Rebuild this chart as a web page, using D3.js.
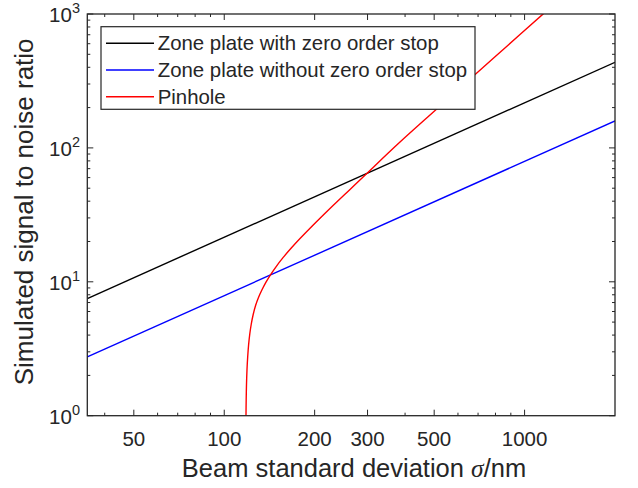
<!DOCTYPE html>
<html>
<head>
<meta charset="utf-8">
<script src="https://cdn.jsdelivr.net/npm/d3@7"></script>
<style>
  body { margin: 0; background: #fff; }
  svg { display: block; }
  text { font-family: "Liberation Sans", Arial, Helvetica, sans-serif; fill: #262626; }
</style>
</head>
<body>
<svg id="chart" width="638" height="488"></svg>
<script>
// Beam standard deviation (nm) and simulated SNR for each detector setup
const sigmaLine = [35, 2000];
const snrWithStop = [7.5, 436];
const snrWithoutStop = [2.75, 159];

const sigmaPinhole = [118.14, 118.32, 118.59, 119.05, 119.69, 120.52, 121.63, 123.04, 124.85, 127.17,
                      130.03, 133.57, 137.73, 142.35, 148.71, 156.93, 166.9, 178.78, 202.07, 230.77,
                      262.31, 296.51, 384.77, 510.97, 678.6, 880.9, 1148.3, 1312.1];
const snrPinhole   = [1.0, 1.31, 1.695, 2.194, 2.744, 3.373, 4.075, 4.84, 5.7, 6.653,
                      7.633, 8.713, 9.931, 11.22, 12.94, 15.14, 17.79, 21.02, 27.82, 37.27,
                      48.98, 63.62, 110.5, 195.9, 347.3, 584.8, 993, 1296];

const seriesNames = ["Zone plate with zero order stop", "Zone plate without zero order stop", "Pinhole"];
const seriesColors = ["#000000", "#0000ff", "#ff0000"];

const xTickLabels = [50, 100, 200, 300, 500, 1000];
const xMinorTicks = [40, 60, 70, 80, 90, 400, 600, 700, 800, 900];
const yTickExponents = [0, 1, 2, 3];

const svg = d3.select("#chart");
const plotL = 87.3, plotR = 615, plotT = 14, plotB = 415.7;

const x = d3.scaleLog().domain([35, 2000]).range([plotL, plotR]);
const y = d3.scaleLog().domain([1, 1000]).range([plotB, plotT]);

svg.append("defs").append("clipPath").attr("id", "plotClip")
  .append("rect").attr("x", plotL).attr("y", plotT)
  .attr("width", plotR - plotL).attr("height", plotB - plotT);

const series = [
  sigmaLine.map((s, i) => [s, snrWithStop[i]]),
  sigmaLine.map((s, i) => [s, snrWithoutStop[i]]),
  sigmaPinhole.map((s, i) => [s, snrPinhole[i]])
];

// centripetal Catmull-Rom keeps the steep pinhole rise smooth
const line = d3.line().x(d => x(d[0])).y(d => y(d[1])).curve(d3.curveCatmullRom.alpha(0.5));

const plot = svg.append("g").attr("clip-path", "url(#plotClip)");
series.forEach((pts, i) => {
  plot.append("path").datum(pts)
    .attr("d", line)
    .attr("fill", "none")
    .attr("stroke", seriesColors[i])
    .attr("stroke-width", 1.4);
});

// Axes box with inward ticks on all four sides
const axisColor = "#262626";
const ticks = svg.append("g").attr("stroke", axisColor).attr("stroke-width", 1);
const major = 6, minor = 3;

xTickLabels.forEach(v => {
  ticks.append("line").attr("x1", x(v)).attr("x2", x(v)).attr("y1", plotB).attr("y2", plotB - major);
  ticks.append("line").attr("x1", x(v)).attr("x2", x(v)).attr("y1", plotT).attr("y2", plotT + major);
});
xMinorTicks.forEach(v => {
  ticks.append("line").attr("x1", x(v)).attr("x2", x(v)).attr("y1", plotB).attr("y2", plotB - minor);
  ticks.append("line").attr("x1", x(v)).attr("x2", x(v)).attr("y1", plotT).attr("y2", plotT + minor);
});

const yMinor = [];
for (let e = 0; e < 3; e++) for (let m = 2; m <= 9; m++) yMinor.push(m * Math.pow(10, e));
yTickExponents.forEach(e => {
  const v = Math.pow(10, e);
  ticks.append("line").attr("x1", plotL).attr("x2", plotL + major).attr("y1", y(v)).attr("y2", y(v));
  ticks.append("line").attr("x1", plotR).attr("x2", plotR - major).attr("y1", y(v)).attr("y2", y(v));
});
yMinor.forEach(v => {
  ticks.append("line").attr("x1", plotL).attr("x2", plotL + minor).attr("y1", y(v)).attr("y2", y(v));
  ticks.append("line").attr("x1", plotR).attr("x2", plotR - minor).attr("y1", y(v)).attr("y2", y(v));
});

svg.append("rect").attr("x", plotL).attr("y", plotT)
  .attr("width", plotR - plotL).attr("height", plotB - plotT)
  .attr("fill", "none").attr("stroke", axisColor).attr("stroke-width", 1.3);

// Tick labels
svg.append("g").selectAll("text").data(xTickLabels).join("text")
  .attr("x", d => x(d)).attr("y", 446)
  .attr("text-anchor", "middle").attr("font-size", 20.5)
  .text(d => d);

const yl = svg.append("g").selectAll("text").data(yTickExponents).join("text")
  .attr("x", 80).attr("y", d => y(Math.pow(10, d)) + 8)
  .attr("text-anchor", "end").attr("font-size", 20.5);
yl.append("tspan").text("10");
yl.append("tspan").attr("dy", -9).attr("font-size", 14.5).text(d => d);

// Axis titles
const xt = svg.append("text").attr("x", 354).attr("y", 477)
  .attr("text-anchor", "middle").attr("font-size", 25.5);
xt.append("tspan").text("Beam standard deviation ");
xt.append("tspan").attr("font-family", "'Liberation Serif', 'Times New Roman', serif").attr("font-style", "italic").text("σ");
xt.append("tspan").text("/nm");

svg.append("text")
  .attr("transform", `translate(33, ${(plotT + plotB) / 2 - 3}) rotate(-90)`)
  .attr("text-anchor", "middle").attr("font-size", 26)
  .text("Simulated signal to noise ratio");

// Legend
const lg = svg.append("g");
lg.append("rect").attr("x", 101).attr("y", 26.7).attr("width", 374).attr("height", 82.6)
  .attr("fill", "#fff").attr("stroke", axisColor).attr("stroke-width", 1.2);
seriesNames.forEach((name, i) => {
  const cy = 43.3 + i * 26.7;
  lg.append("line").attr("x1", 106).attr("x2", 154).attr("y1", cy).attr("y2", cy)
    .attr("stroke", seriesColors[i]).attr("stroke-width", 1.4);
  lg.append("text").attr("x", 157.7).attr("y", cy + 7).attr("font-size", 20.4).text(name);
});
</script>
</body>
</html>
